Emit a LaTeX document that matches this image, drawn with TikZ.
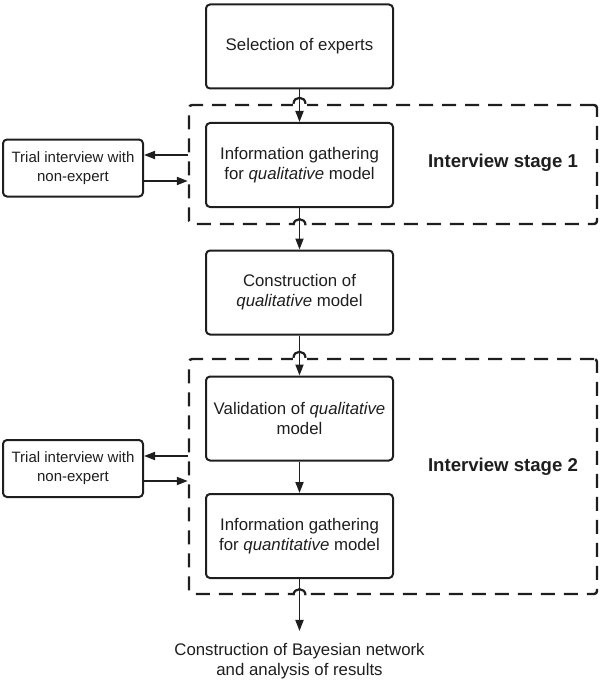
\documentclass[tikz,border=0pt]{standalone}
\usepackage{fontspec}
\setmainfont{Liberation Sans}
\usetikzlibrary{arrows.meta,calc}
\definecolor{ink}{HTML}{1E1E1E}
\begin{document}
\begin{tikzpicture}[x=1pt,y=-1pt,
  box/.style={draw=ink, line width=2pt, rounded corners=4pt, minimum width=187pt, minimum height=84pt,
    align=center, font=\fontsize{16.8}{20}\selectfont, text=ink, inner sep=0pt},
  trialbox/.style={box, minimum width=140pt, minimum height=57pt, font=\fontsize{15}{19}\selectfont},
  stagebox/.style={draw=ink, line width=2.4pt, dash pattern=on 14pt off 9pt, rounded corners=3pt, inner sep=0pt},
  stagelabel/.style={font=\bfseries\fontsize{18.6}{22}\selectfont, text=ink, inner sep=0pt},
  arr/.style={draw=ink, line width=1.8pt, -{Triangle[length=11pt,width=8pt]}},
  hop/.style={draw=ink, line width=2.2pt}]
\useasboundingbox (0,0) rectangle (600,682);
% dashed stage frames
\node[stagebox, minimum width=408pt, minimum height=119pt] (s1) at (393,164.5) {};
\node[stagebox, minimum width=408pt, minimum height=235pt] (s2) at (393,476.5) {};
\node[stagelabel] (l1) at (503,163) {Interview stage 1};
\node[stagelabel] (l2) at (503,467) {Interview stage 2};
% main boxes
\node[box] (sel) at (299.5,46.5) {Selection of experts};
\node[box] (iq) at (299.5,165) {Information gathering\\for \textit{qualitative} model};
\node[box] (cq) at (299.5,292.5) {Construction of\\\textit{qualitative} model};
\node[box] (vq) at (299.5,418.5) {Validation of \textit{qualitative}\\model};
\node[box] (iqt) at (299.5,536) {Information gathering\\for \textit{quantitative} model};
\node[trialbox] (t1) at (73,168) {Trial interview with\\non-expert};
\node[trialbox] (t2) at (73,468.5) {Trial interview with\\non-expert};
\node[align=center, font=\fontsize{16.8}{20}\selectfont, text=ink, inner sep=2pt] (fin) at (299.5,661)
  {Construction of Bayesian network\\and analysis of results};
% hops where arrows cross the dashed frames
\coordinate (h1) at (sel.south |- s1.north);
\coordinate (h2) at (iq.south |- s1.south);
\coordinate (h3) at (cq.south |- s2.north);
\coordinate (h4) at (iqt.south |- s2.south);
\foreach \h in {h1,h2,h3,h4}{
  \fill[white] ($(\h)+(-7,-3)$) rectangle ($(\h)+(7,3)$);
  \draw[hop] ($(\h)+(-6,0)$) .. controls ($(\h)+(-6,-8)$) and ($(\h)+(6,-8)$) .. ($(\h)+(6,0)$);
}
% arrows
\draw[arr] (sel) -- (iq);
\draw[arr] (iq) -- (cq);
\draw[arr] (cq) -- (vq);
\draw[arr] (vq) -- (iqt);
\draw[arr] (iqt.south) -- ([yshift=10pt]fin.north);
\draw[arr] ([yshift=13pt]t1.east -| s1.west) -- ([yshift=13pt]t1.east);
\draw[arr] ([yshift=-13pt]t1.east) -- ([yshift=-13pt]t1.east -| s1.west);
\draw[arr] ([yshift=12.5pt]t2.east -| s2.west) -- ([yshift=12.5pt]t2.east);
\draw[arr] ([yshift=-12.5pt]t2.east) -- ([yshift=-12.5pt]t2.east -| s2.west);
\end{tikzpicture}
\end{document}
